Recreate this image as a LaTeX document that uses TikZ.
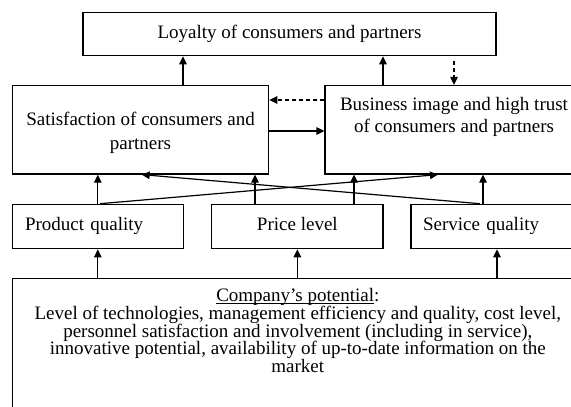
\documentclass[tikz,border=0pt]{standalone}
\usepackage{fontspec}
\setmainfont{Liberation Serif}
\usetikzlibrary{arrows.meta}
% underline that sits just below the baseline without adding depth
\newcommand\myul[1]{\setbox0=\hbox{#1}\rlap{\rule[-2pt]{\wd0}{0.8pt}}#1}
\newcommand\tightlines{\fontsize{19}{17.75}\selectfont\lineskiplimit=-20pt\relax}
\begin{document}
\begin{tikzpicture}[x=1pt,y=-1pt,
  every node/.style={font=\fontsize{19}{22}\selectfont},
  box/.style={draw, line width=1.2pt, rectangle, inner sep=0pt},
  one/.style={text height=13pt, text depth=4.2pt},
  link/.style={line width=1.2pt, -{Triangle[length=8pt,width=7.5pt]}},
  dlink/.style={link, dash pattern=on 4pt off 3pt},
]
\fill[white] (0,0) rectangle (571,407);
\useasboundingbox (0,0) rectangle (571,407);

% top level
\node[box, one, minimum width=413pt, minimum height=43.4pt] (loyalty) at (289.5,34) {Loyalty of consumers and partners};

% middle level
\node[box, minimum width=256.4pt, minimum height=88.5pt] (sat) at (140.5,129.75) {};
\node[anchor=north, align=center, inner sep=0pt, font=\fontsize{19}{24}\selectfont] (satText) at ([yshift=-27pt]sat.north) {Satisfaction of consumers and\\partners};
\node[box, minimum width=258pt, minimum height=88.5pt] (biz) at (454,129.75) {};
\node[anchor=north, align=center, inner sep=0pt] (bizText) at ([yshift=-12.5pt]biz.north) {Business image and high trust\\of consumers and partners};

% factor level
\node[box, one, minimum width=171pt, minimum height=44.4pt, text width=145.6pt, align=left] (prod) at (97.8,226.5) {Product quality};
\node[box, one, minimum width=171.3pt, minimum height=44.4pt] (price) at (297.35,226.5) {Price level};
\node[box, one, minimum width=172pt, minimum height=44.4pt, text width=148pt, align=left] (serv) at (497,226.5) {Service quality};

% base level
\node[box, minimum width=571pt, minimum height=142pt] (pot) at (297.8,349.3) {};
\node[anchor=north, align=center, inner sep=0pt, font=\tightlines] (potText) at ([yshift=-10.5pt]pot.north) {\myul{Company’s potential}:\\Level of technologies, management efficiency and quality, cost level,\\personnel satisfaction and involvement (including in service),\\innovative potential, availability of up-to-date information on the\\market};

% connectors to the top level
\draw[link] (sat.north -| 183,0) -- (loyalty.south -| 183,0);
\draw[link] (biz.north -| 383,0) -- (loyalty.south -| 383,0);
\path (loyalty.south -| 454,0) ++(0,5) coordinate (dstart);
\draw[dlink] (dstart) -- (biz.north -| dstart);

% between the middle boxes
\draw[dlink] (biz.west |- 0,100) -- (sat.east |- 0,100);
\draw[link] (sat.east |- 0,131) -- (biz.west |- 0,131);

% factors to the middle level
\draw[link] (prod.north) -- (sat.south -| prod.north);
\draw[link] (price.north -| 255,0) -- (sat.south -| 255,0);
\draw[link] (price.north -| 354,0) -- (biz.south -| 354,0);
\draw[link] (serv.north -| 483,0) -- (biz.south -| 483,0);
\draw[link] (prod.north -| 100,0) -- (biz.south -| 438,0);
\draw[link] (serv.north -| 480,0) -- (sat.south -| 141.7,0);

% base to factors
\draw[link] (pot.north -| prod.south) -- (prod.south);
\draw[link] (pot.north -| price.south) -- (price.south);
\draw[link] (pot.north -| serv.south) -- (serv.south);
\end{tikzpicture}
\end{document}
